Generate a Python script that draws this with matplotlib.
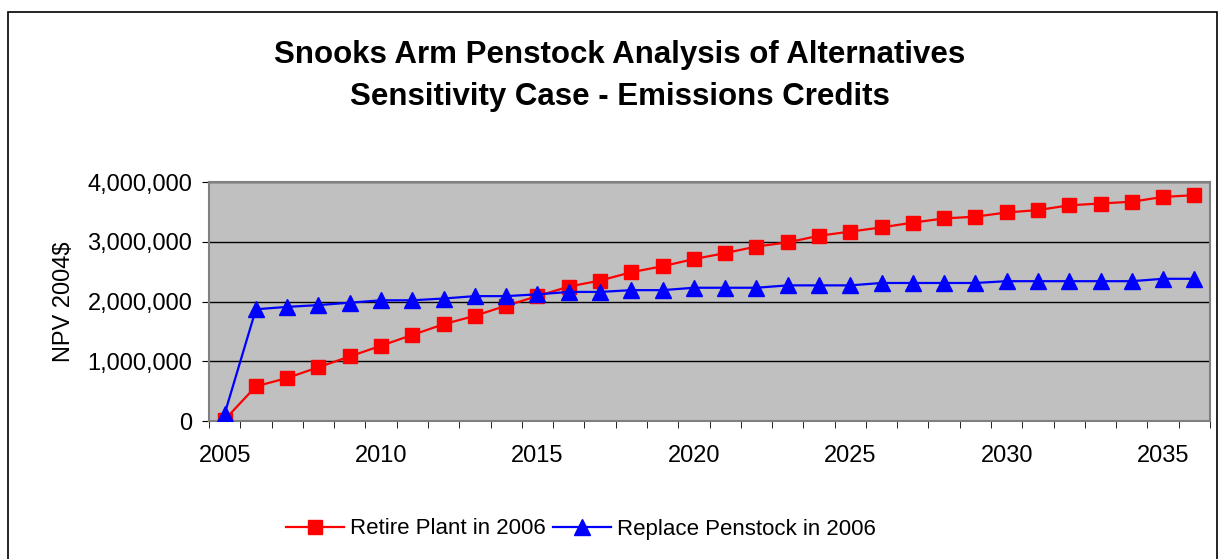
import matplotlib.pyplot as plt
import matplotlib.ticker as mticker
from matplotlib.patches import Rectangle

plt.rcParams['font.family'] = ['Liberation Sans', 'DejaVu Sans']

years = list(range(2005, 2037))
retire = [20000, 580000, 720000, 900000, 1080000, 1260000, 1440000, 1620000,
          1760000, 1930000, 2090000, 2250000, 2350000, 2490000, 2590000, 2710000,
          2810000, 2920000, 2990000, 3100000, 3170000, 3240000, 3320000, 3390000,
          3420000, 3490000, 3530000, 3610000, 3640000, 3670000, 3750000, 3780000]
replace = [120000, 1870000, 1910000, 1940000, 1980000, 2020000, 2020000, 2050000,
           2090000, 2090000, 2120000, 2160000, 2160000, 2190000, 2190000, 2230000,
           2230000, 2230000, 2270000, 2270000, 2270000, 2310000, 2310000, 2310000,
           2310000, 2340000, 2340000, 2340000, 2340000, 2340000, 2380000, 2380000]

fig = plt.figure(figsize=(12.19, 5.59), dpi=100)
fig.patches.append(Rectangle((8 / 1219, -0.01), 1209 / 1219, 1 - 12 / 559 + 0.01,
                             transform=fig.transFigure, fill=False,
                             edgecolor='black', linewidth=1.2))

ax = fig.add_axes([209 / 1219, 1 - 421 / 559, 1001 / 1219, 239 / 559])
ax.set_facecolor('#C0C0C0')

ax.plot(years, retire, color='#FF0000', marker='s', markersize=10, linewidth=1.6,
        label='Retire Plant in 2006', zorder=3)
ax.plot(years, replace, color='#0000FF', marker='^', markersize=11, linewidth=1.6,
        label='Replace Penstock in 2006', zorder=3)

ax.set_xlim(2004.5, 2036.5)
ax.set_ylim(0, 4000000)
ax.yaxis.set_major_locator(mticker.MultipleLocator(1000000))
ax.yaxis.set_major_formatter(mticker.FuncFormatter(lambda v, p: f'{int(v):,}'))
ax.xaxis.set_major_locator(mticker.FixedLocator(list(range(2005, 2037, 5))))
ax.xaxis.set_minor_locator(mticker.FixedLocator([y + 0.5 for y in range(2004, 2037)]))
ax.tick_params(axis='x', which='major', length=0, labelsize=17, pad=17)
ax.tick_params(axis='x', which='minor', length=5, color='black', direction='out')
ax.tick_params(axis='y', length=5, labelsize=17, color='black', pad=7)
ax.grid(axis='y', color='black', linewidth=1)
ax.set_axisbelow(True)
for s in ['top', 'right', 'left', 'bottom']:
    ax.spines[s].set_color('#808080')
    ax.spines[s].set_linewidth(1.5)

ax.set_ylabel('NPV 2004$', fontsize=17, labelpad=9)

fig.text(620 / 1219, 1 - 55 / 559, 'Snooks Arm Penstock Analysis of Alternatives',
         ha='center', va='center', fontsize=22.5, fontweight='bold')
fig.text(620 / 1219, 1 - 97 / 559, 'Sensitivity Case - Emissions Credits',
         ha='center', va='center', fontsize=22.5, fontweight='bold')

fig.legend(loc='center', bbox_to_anchor=(581 / 1219, 1 - 529 / 559), ncol=2,
           frameon=False, fontsize=16, handlelength=2.6, columnspacing=0.3,
           handletextpad=0.3)

fig.savefig('out.png', dpi=100)
